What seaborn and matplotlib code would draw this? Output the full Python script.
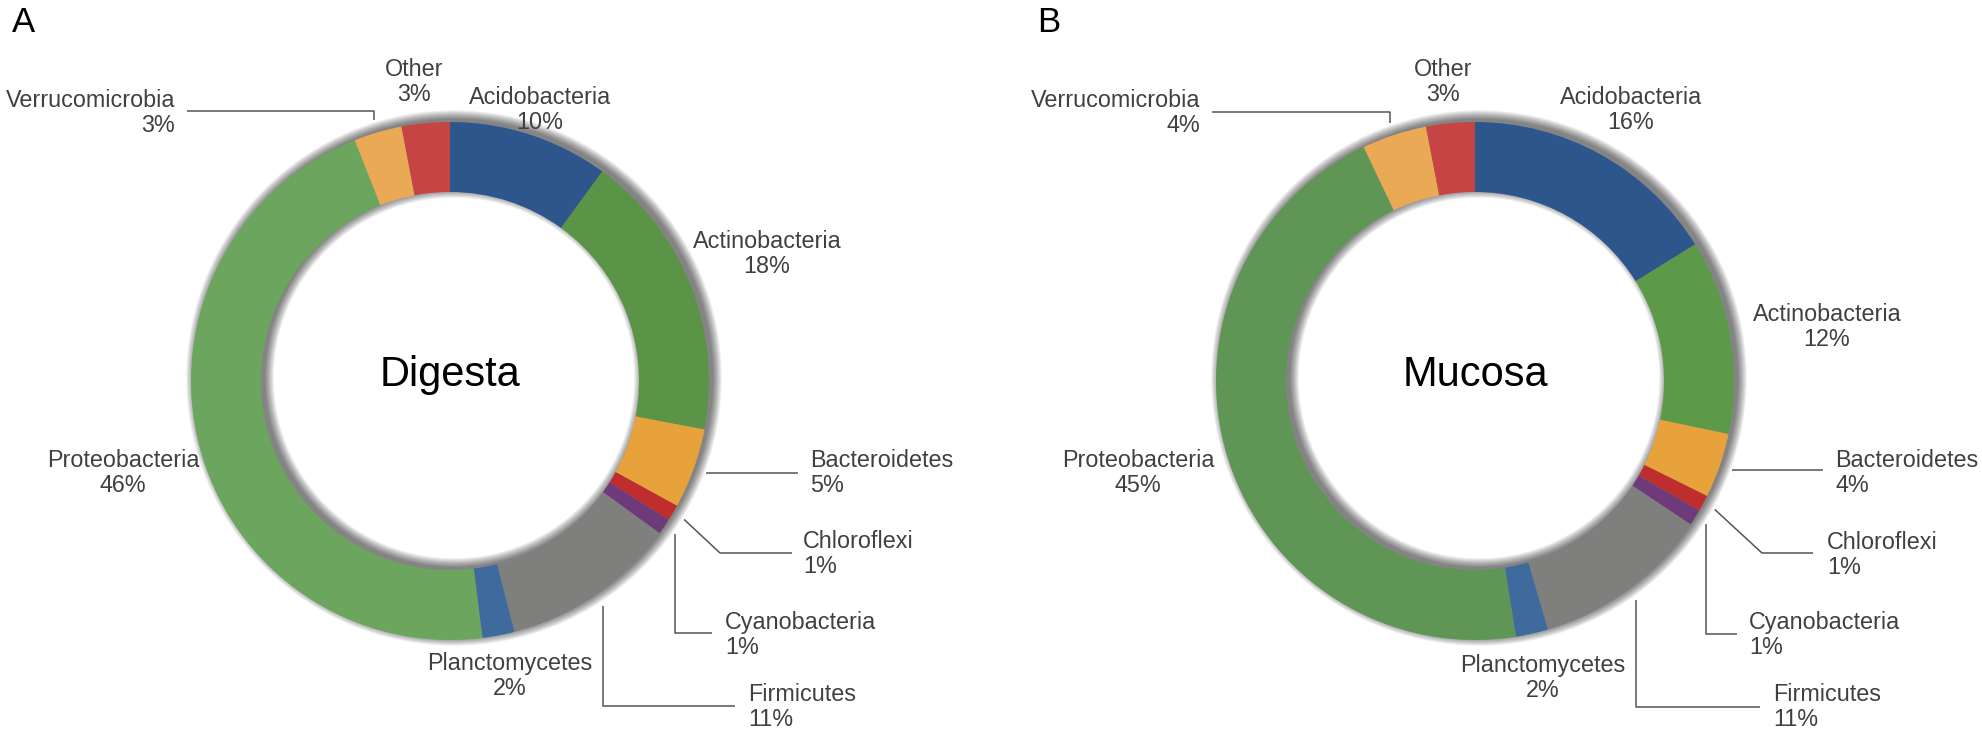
import numpy as np
import matplotlib
matplotlib.use("Agg")
import matplotlib.pyplot as plt
from matplotlib.patches import Wedge
import seaborn as sns

# ---- data ----
phyla = ["Acidobacteria", "Actinobacteria", "Bacteroidetes", "Chloroflexi",
         "Cyanobacteria", "Firmicutes", "Planctomycetes", "Proteobacteria",
         "Verrucomicrobia", "Other"]
digesta = [10, 18, 5, 1, 1, 11, 2, 46, 3, 3]
mucosa = [16, 12, 4, 1, 1, 11, 2, 45, 4, 3]

colors_digesta = ["#2D578C", "#5B9446", "#E8A23B", "#BF2D2D", "#6E3A7A",
                  "#7F807E", "#3E6A9E", "#6CA55D", "#EAAA55", "#C64444"]
colors_mucosa = ["#2D578C", "#5C9A4A", "#E8A23B", "#BF2D2D", "#6E3A7A",
                 "#7F807E", "#3E6A9E", "#5F9655", "#EAAA55", "#C64444"]

sns.set_theme(style="white")
plt.rcParams["font.family"] = ["Liberation Sans", "DejaVu Sans"]

W, H = 1982, 734
fig = plt.figure(figsize=(W / 100, H / 100), dpi=100)
ax = fig.add_axes([0, 0, 1, 1])

R = 259
RI = 189
TXT = "#404040"
LC = "#555555"


def Y(y):
    return H - y


# label layout (pixel positions, y downward): x, y, ha, leader
# leader: None | ("h", xend) | ("v", ycorner, xend) | ("d", (ex, ey), xend)
layout_a = {
    "Acidobacteria": (540, 110, "center", None),
    "Actinobacteria": (767, 254, "center", None),
    "Bacteroidetes": (810, 473, "left", ("h", 798)),
    "Chloroflexi": (803, 554, "left", ("d", (720, 553), 792)),
    "Cyanobacteria": (725, 635, "left", ("v", 633, 712)),
    "Firmicutes": (748, 707, "left", ("v", 706, 735)),
    "Planctomycetes": (510, 676, "center", None),
    "Proteobacteria": (123, 473, "center", None),
    "Verrucomicrobia": (175, 113, "right", ("v", 111, 187)),
    "Other": (414, 82, "center", None),
}
layout_b = {
    "Acidobacteria": (1631, 110, "center", None),
    "Actinobacteria": (1827, 327, "center", None),
    "Bacteroidetes": (1835, 473, "left", ("h", 1823)),
    "Chloroflexi": (1827, 555, "left", ("d", (1762, 553), 1813)),
    "Cyanobacteria": (1749, 635, "left", ("v", 634, 1737)),
    "Firmicutes": (1773, 707, "left", ("v", 707, 1760)),
    "Planctomycetes": (1543, 678, "center", None),
    "Proteobacteria": (1138, 473, "center", None),
    "Verrucomicrobia": (1200, 113, "right", ("v", 112, 1212)),
    "Other": (1443, 82, "center", None),
}


def shadow(cx, cy):
    # soft shadow of the ring, pushed up/right
    ox, oy = cx + 4, cy + 3
    n = 12
    for i in range(n):
        s = i * 0.8
        ax.add_patch(Wedge((ox, oy), R + s, 0, 360, width=(R - RI) + 2 * s,
                           facecolor="black", edgecolor="none", alpha=0.05, zorder=1))


def donut(cx_px, cy_px, values, colors, title, layout):
    cx, cy = cx_px, Y(cy_px)
    shadow(cx, cy)
    ax.pie(values, colors=colors, startangle=90, counterclock=False,
           radius=R, center=(cx, cy),
           wedgeprops=dict(width=R - RI, linewidth=0, zorder=2))
    ax.text(cx, cy + 6, title, ha="center", va="center", fontsize=30,
            color="black", zorder=5)
    total = float(sum(values))
    cum = np.cumsum([0] + list(values)) / total
    for k, name in enumerate(phyla):
        x, y, ha, leader = layout[name]
        ax.text(x, Y(y), f"{name}\n{values[k]}%", ha=ha, va="center",
                multialignment=ha, fontsize=16.8, color=TXT,
                linespacing=1.15, zorder=5)
        if leader is None:
            continue
        mid = (cum[k] + cum[k + 1]) / 2 * 2 * np.pi
        sx = cx + 1.05 * R * np.sin(mid)
        sy = cy + 1.05 * R * np.cos(mid)
        if leader[0] == "h":
            xs, ys = [sx, leader[1]], [sy, sy]
        elif leader[0] == "v":
            xs, ys = [sx, sx, leader[2]], [sy, Y(leader[1]), Y(leader[1])]
        else:
            ex, ey = leader[1]
            xs, ys = [sx, ex, leader[2]], [sy, Y(ey), Y(ey)]
        ax.plot(xs, ys, color=LC, lw=1.1, solid_capstyle="butt", zorder=4)


donut(450, 381, digesta, colors_digesta, "Digesta", layout_a)
donut(1475, 381, mucosa, colors_mucosa, "Mucosa", layout_b)

ax.text(12, Y(6), "A", ha="left", va="top", fontsize=25, color="black")
ax.text(1037, Y(6), "B", ha="left", va="top", fontsize=25, color="black")

ax.set_xlim(0, W)
ax.set_ylim(0, H)
ax.set_aspect("equal")
ax.axis("off")

fig.savefig("out.png", dpi=100, facecolor="white")
